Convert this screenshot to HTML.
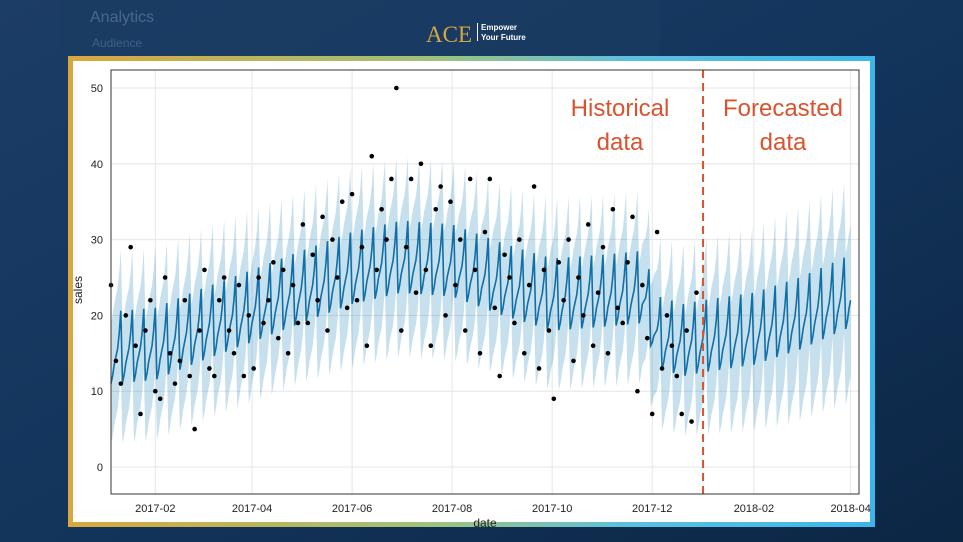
<!DOCTYPE html>
<html><head><meta charset="utf-8"><style>
html,body{margin:0;padding:0;width:963px;height:542px;overflow:hidden;background:#0f2b4c}
svg{display:block;font-family:"Liberation Sans",sans-serif}
</style></head><body>
<svg id="chart" width="963" height="542" viewBox="0 0 963 542" xmlns="http://www.w3.org/2000/svg">
<defs>
<linearGradient id="bg" x1="0" y1="0" x2="1" y2="1">
<stop offset="0" stop-color="#1c3d66"/><stop offset="0.5" stop-color="#13355c"/><stop offset="1" stop-color="#0c2644"/></linearGradient>
<linearGradient id="frame" x1="0" y1="0" x2="1" y2="0">
<stop offset="0" stop-color="#d8a73e"/><stop offset="0.45" stop-color="#9fc27a"/><stop offset="0.7" stop-color="#5cc0e0"/><stop offset="1" stop-color="#3cb6ea"/></linearGradient>
</defs>
<rect x="0" y="0" width="963" height="542" fill="url(#bg)"/>
<rect x="60" y="0" width="600" height="60" fill="#1a3c63" opacity="0.6"/>
<text x="90" y="22" font-size="16" fill="#5d7a9c" opacity="0.7">Analytics</text>
<text x="92" y="47" font-size="12" fill="#5d7a9c" opacity="0.6">Audience</text>
<text x="426" y="42" font-size="23" fill="#d6a93e" font-family="Liberation Serif,serif">ACE</text>
<rect x="477" y="23" width="1" height="18" fill="#fff"/>
<text x="481" y="30" font-size="8" font-weight="bold" fill="#fff">Empower</text>
<text x="481" y="40" font-size="8" font-weight="bold" fill="#fff">Your Future</text>
<rect x="68" y="56" width="807" height="471" fill="url(#frame)"/>
<rect x="73" y="61" width="797" height="461" fill="#fff"/>
<g id="plot"></g>
<text x="620" y="116" font-size="24" fill="#d9532f" text-anchor="middle">Historical</text>
<text x="620" y="150" font-size="24" fill="#d9532f" text-anchor="middle">data</text>
<text x="783" y="116" font-size="24" fill="#d9532f" text-anchor="middle">Forecasted</text>
<text x="783" y="150" font-size="24" fill="#d9532f" text-anchor="middle">data</text>
<text transform="translate(82,290) rotate(-90)" font-size="12" fill="#222" text-anchor="middle">sales</text>
<text x="485" y="527" font-size="12" fill="#222" text-anchor="middle">date</text>
</svg>
<script>
const trendDays=[0,27,55,86,116,147,177,208,239,269,300,324,334,349,361,392,420,451];
const trendVals=[15,15.5,18,20.5,23,25.5,27,26.5,24,22,22.5,23,17,16,16.5,17.5,19.5,22.5];
const bandHalf=[8,8,8,8,8,8.5,8.5,8.5,8,8,8,8,8,8,8.3,8.8,9.5,10];
const weekly=[-4,-3,-1.5,-0.5,0.5,2.5,5.5];
const salesDays=[0,3,6,9,12,15,18,21,24,27,30,33,36,39,42,45,48,51,54,57,60,63,66,69,72,75,78,81,84,87,90,93,96,99,102,105,108,111,114,117,120,123,126,129,132,135,138,141,144,147,150,153,156,159,162,165,168,171,174,177,180,183,186,189,192,195,198,201,204,207,210,213,216,219,222,225,228,231,234,237,240,243,246,249,252,255,258,261,264,267,270,273,276,279,282,285,288,291,294,297,300,303,306,309,312,315,318,321,324,327,330,333,336,339,342,345,348,351,354,357];
const salesVals=[24,14,11,20,29,16,7,18,22,10,9,25,15,11,14,22,12,5,18,26,13,12,22,25,18,15,24,12,20,13,25,19,22,27,17,26,15,24,19,32,19,28,22,33,18,30,25,35,21,36,22,29,16,41,26,34,30,38,50,18,29,38,23,40,26,16,34,37,20,35,24,30,18,38,26,15,31,38,21,12,28,25,19,30,15,24,37,13,26,18,9,27,22,30,14,25,20,32,16,23,29,15,34,21,19,27,33,10,24,17,7,31,13,20,16,12,7,18,6,23];
const yTicks=[0,10,20,30,40,50];
const xTickLabels=["2017-02","2017-04","2017-06","2017-08","2017-10","2017-12","2018-02","2018-04"];
const xTickDays=[27,86,147,208,269,330,392,451];
const forecastStartDay=361;

const X0=111,X1=859,Y0=70,Y1=494;
const xs=d=>X0+d*1.64;
const ys=v=>467-v*7.58;
const NS="http://www.w3.org/2000/svg";
const g=document.getElementById('plot');
function mk(t,a){const e=document.createElementNS(NS,t);for(const k in a)e.setAttribute(k,a[k]);g.appendChild(e);return e;}
function interp(arr,d){for(let i=0;i<trendDays.length-1;i++){if(d<=trendDays[i+1]){const t=(d-trendDays[i])/(trendDays[i+1]-trendDays[i]);return arr[i]+t*(arr[i+1]-arr[i]);}}return arr[arr.length-1];}
yTicks.forEach(v=>{
const l=mk('line',{x1:X0,x2:X1,y1:ys(v),y2:ys(v),stroke:'#e6e6e6','stroke-width':1});


const t=mk('text',{x:X0-8,y:ys(v)+4,'font-size':11,fill:'#222','text-anchor':'end'});t.textContent=v;


});
xTickDays.forEach((d,i)=>{
const l=mk('line',{x1:xs(d),x2:xs(d),y1:Y0,y2:Y1,stroke:'#e6e6e6','stroke-width':1});


const t=mk('text',{x:xs(d),y:Y1+18,'font-size':11,fill:'#222','text-anchor':'middle'});t.textContent=xTickLabels[i];


});
let up=[],lo=[],ln=[];
for(let d=0;d<=451;d++){const yh=interp(trendVals,d)+weekly[d%7];const h=interp(bandHalf,d);
up.push(xs(d).toFixed(1)+','+ys(yh+h).toFixed(1));lo.unshift(xs(d).toFixed(1)+','+ys(yh-h).toFixed(1));ln.push(xs(d).toFixed(1)+','+ys(yh).toFixed(1));}
const band=mk('polygon',{points:up.concat(lo).join(' '),fill:'#0072b2','fill-opacity':0.22});


const line=mk('polyline',{points:ln.join(' '),fill:'none',stroke:'#0f6fa8','stroke-width':1.6});


salesDays.forEach((d,i)=>{
const c=mk('circle',{cx:xs(d),cy:ys(salesVals[i]),r:2.3,fill:'#000'});


});
const dl=mk('line',{x1:xs(forecastStartDay),x2:xs(forecastStartDay),y1:Y0,y2:Y1,stroke:'#d9532f','stroke-width':2,'stroke-dasharray':'8,5'});


const ax=mk('rect',{x:X0,y:Y0,width:X1-X0,height:Y1-Y0,fill:'none',stroke:'#333','stroke-width':1});


</script>
</body></html>
